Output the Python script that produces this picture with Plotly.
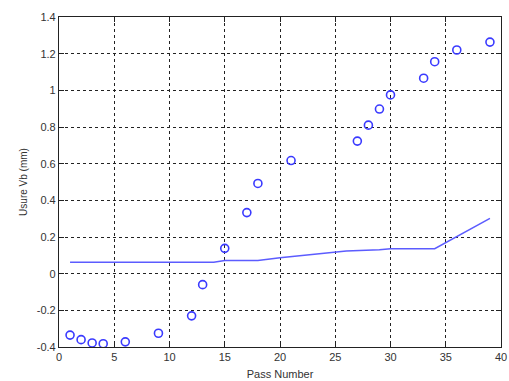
import plotly.graph_objects as go

pass_number = [1, 2, 3, 4, 6, 9, 12, 13, 15, 17, 18, 21, 27, 28, 29, 30, 33, 34, 36, 39]
usure_vb = [-0.335, -0.36, -0.378, -0.382, -0.372, -0.325, -0.23, -0.06, 0.138, 0.333,
            0.492, 0.617, 0.723, 0.81, 0.898, 0.975, 1.066, 1.156, 1.22, 1.263]

model_x = [1, 14, 15, 18, 20, 25, 26, 29, 30, 34, 35, 39]
model_y = [0.062, 0.062, 0.072, 0.072, 0.087, 0.114, 0.123, 0.13, 0.136, 0.136, 0.17, 0.302]

x_ticks = [0, 5, 10, 15, 20, 25, 30, 35, 40]
y_ticks = [-0.4, -0.2, 0, 0.2, 0.4, 0.6, 0.8, 1.0, 1.2, 1.4]
y_tick_text = ["-0.4", "-0.2", "0", "0.2", "0.4", "0.6", "0.8", "1", "1.2", "1.4"]

fig = go.Figure()
fig.add_trace(go.Scatter(
    x=model_x, y=model_y, mode="lines",
    line=dict(color="#5c5cff", width=1.5), showlegend=False, hoverinfo="skip"))
fig.add_trace(go.Scatter(
    x=pass_number, y=usure_vb, mode="markers",
    marker=dict(symbol="circle-open", size=8, color="#3a3aff", line=dict(width=1.6)),
    showlegend=False))

font_family = "Liberation Sans, Arial, sans-serif"
axis_common = dict(
    showline=True, linecolor="#222", linewidth=1.2, mirror="ticks",
    ticks="inside", ticklen=5, tickcolor="#222",
    showgrid=True, gridcolor="#222", griddash="dot", gridwidth=1,
    zeroline=False, ticklabeloverflow="allow",
    tickfont=dict(family=font_family, size=11, color="#333"),
)

fig.update_xaxes(
    range=[0, 40], tickvals=x_ticks, ticktext=[str(v) for v in x_ticks],
    title=dict(text="Pass Number", font=dict(family=font_family, size=11, color="#333"), standoff=8),
    **axis_common)
fig.update_yaxes(
    range=[-0.4, 1.4], tickvals=y_ticks, ticktext=y_tick_text,
    title=dict(text="Usure Vb (mm)", font=dict(family=font_family, size=10, color="#333"), standoff=7),
    **axis_common)

fig.update_layout(
    width=509, height=381,
    margin=dict(l=59, r=8, t=17, b=34, autoexpand=False),
    paper_bgcolor="white", plot_bgcolor="white",
)

fig.write_html("out.html", config={"displayModeBar": False},
               post_script="document.body.style.margin='0';")
